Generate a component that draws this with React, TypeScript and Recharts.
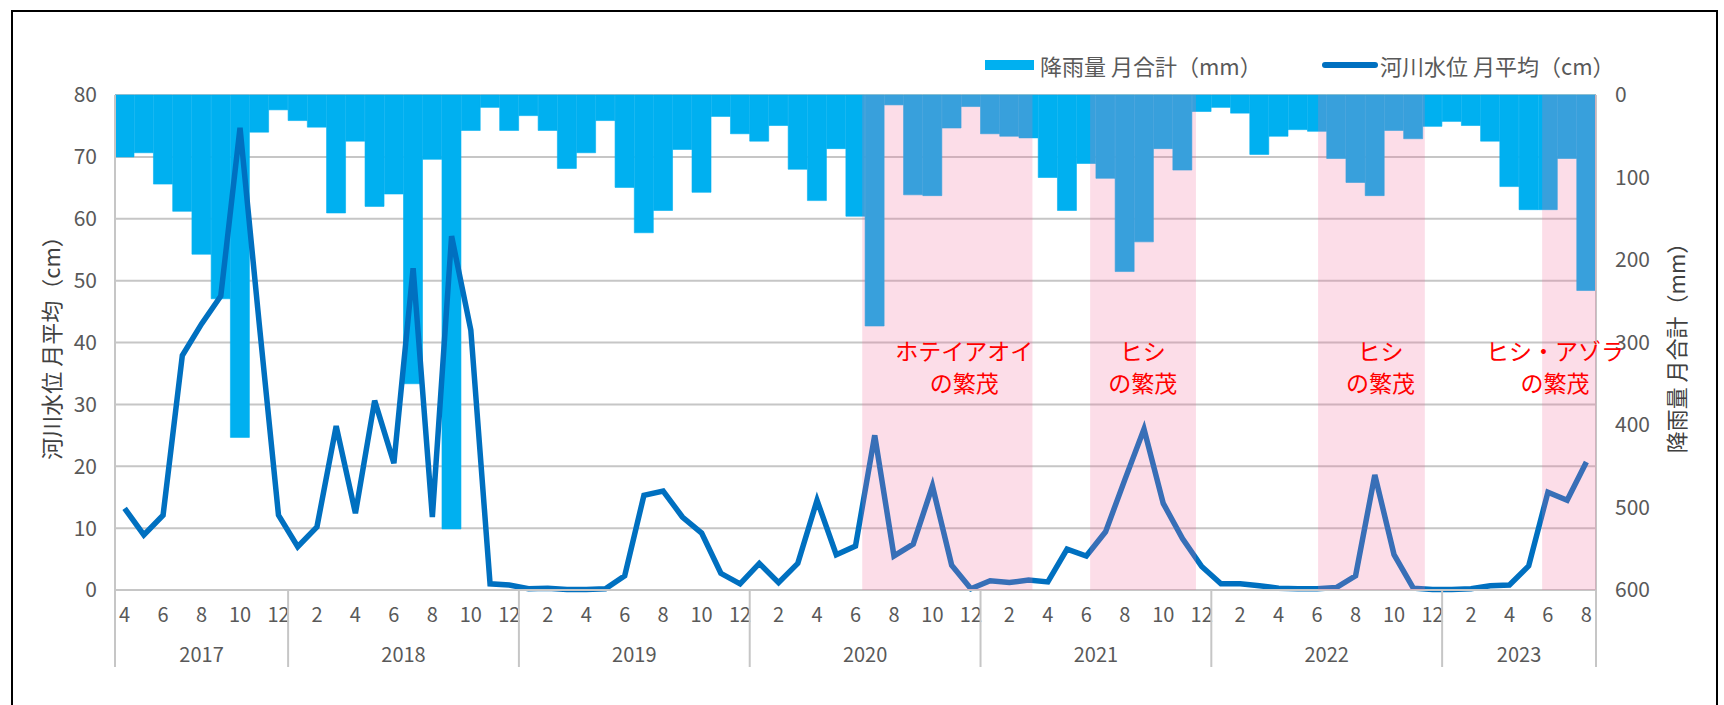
import React from "react";
import {
  Bar, CartesianGrid, ComposedChart, Line, ReferenceArea, ReferenceDot, XAxis, YAxis,
} from "recharts";

const FONT = "'Noto Sans CJK JP', 'Noto Sans', sans-serif";
const TICK_COLOR = "#595959";
const GRID_COLOR = "#c6c6c6";
const RAIN_COLOR = "#00B0F0";
const LEVEL_COLOR = "#0070C0";

const CHART_W = 1724;
const CHART_H = 705;
const LEFT_W = 115;
const RIGHT_W = 128;
const TOP = 95;
const XAXIS_H = 115;

const YEARS = [2017, 2018, 2019, 2020, 2021, 2022, 2023];
const FIRST_MONTH = [4, 1, 1, 1, 1, 1, 1];

// 降雨量 月合計 (mm)
const RAIN_2017 = [75, 70, 108, 141, 193, 247, 415, 45, 18];
const RAIN_2018 = [31, 39, 143, 56, 135, 120, 350, 78, 526, 43, 15, 43];
const RAIN_2019 = [25, 43, 89, 70, 31, 112, 167, 140, 66, 118, 26, 47];
const RAIN_2020 = [56, 37, 90, 128, 65, 147, 280, 12, 121, 122, 40, 14];
const RAIN_2021 = [47, 50, 52, 100, 140, 83, 101, 214, 178, 65, 91, 20];
const RAIN_2022 = [15, 22, 72, 50, 42, 44, 77, 106, 122, 43, 53, 38];
const RAIN_2023 = [32, 37, 56, 111, 139, 139, 77, 237];

// 河川水位 月平均 (cm)
const LEVEL_2017 = [13.2, 8.9, 12.1, 37.9, 43, 47.5, 74.7, 43, 12.1];
const LEVEL_2018 = [7.0, 10.2, 26.5, 12.4, 30.6, 20.5, 52, 11.8, 57.2, 42, 1.0, 0.8];
const LEVEL_2019 = [0.2, 0.3, 0.1, 0.1, 0.2, 2.3, 15.3, 16.0, 11.8, 9.2, 2.7, 1.0];
const LEVEL_2020 = [4.3, 1.2, 4.3, 14.5, 5.7, 7.1, 25.0, 5.5, 7.4, 16.8, 4.0, 0.2];
const LEVEL_2021 = [1.5, 1.2, 1.6, 1.3, 6.6, 5.5, 9.4, 17.8, 26.0, 14.0, 8.3, 3.8];
const LEVEL_2022 = [1.0, 1.0, 0.7, 0.3, 0.2, 0.2, 0.4, 2.3, 18.6, 5.7, 0.3, 0.1];
const LEVEL_2023 = [0.1, 0.2, 0.7, 0.8, 3.9, 15.8, 14.5, 20.7];

const RAIN = [RAIN_2017, RAIN_2018, RAIN_2019, RAIN_2020, RAIN_2021, RAIN_2022, RAIN_2023];
const LEVEL = [LEVEL_2017, LEVEL_2018, LEVEL_2019, LEVEL_2020, LEVEL_2021, LEVEL_2022, LEVEL_2023];

const MONTH_LABELS = [2, 4, 6, 8, 10, 12];
const LEFT_TICKS = [0, 10, 20, 30, 40, 50, 60, 70, 80];
const RIGHT_TICKS = [0, 100, 200, 300, 400, 500, 600];

// shaded periods, in month units counted from the start of 2017-04
const BLOOMS = [[38.85, 47.7], [50.7, 56.2], [62.55, 68.1], [74.2, 77]];
const NOTES = [
  { x: 44.16, top: "ホテイアオイ", bottom: "の繁茂" },
  { x: 53.44, top: "ヒシ", bottom: "の繁茂" },
  { x: 65.8, top: "ヒシ", bottom: "の繁茂" },
  { x: 74.87, top: "ヒシ・アゾラ", bottom: "の繁茂" },
];
const NOTE_Y = [38.5, 33.3];

const rows = YEARS.flatMap((year, yi) =>
  RAIN[yi].map((rain, k) => ({
    key: `${year}-${FIRST_MONTH[yi] + k}`,
    year,
    month: FIRST_MONTH[yi] + k,
    first: k === 0,
    count: RAIN[yi].length,
    rain,
    level: LEVEL[yi][k],
  })),
).map((r, i) => ({ ...r, pos: i + 0.5 }));
const rowByKey = new Map(rows.map((r, i) => [r.key, { ...r, i }]));
const BAND = (CHART_W - LEFT_W - RIGHT_W) / rows.length;

function MonthYearTick(props: any) {
  const { x, y, payload } = props;
  const row = rowByKey.get(payload.value);
  if (!row) return null;
  const half = typeof payload.offset === "number" && payload.offset > 0 ? payload.offset : BAND / 2;
  const isLast = row.i === rows.length - 1;
  return (
    <g>
      {MONTH_LABELS.includes(row.month) && (
        <text x={x} y={y + 23} textAnchor="middle" dominantBaseline="central"
          fill={TICK_COLOR} fontSize={20} fontFamily={FONT}>
          {row.month}
        </text>
      )}
      {row.first && (
        <>
          <line x1={x - half} x2={x - half} y1={y} y2={y + 77} stroke={GRID_COLOR} strokeWidth={2} />
          <text x={x - half + row.count * half} y={y + 63} textAnchor="middle" dominantBaseline="central"
            fill={TICK_COLOR} fontSize={20} fontFamily={FONT}>
            {row.year}
          </text>
        </>
      )}
      {isLast && <line x1={x + half} x2={x + half} y1={y} y2={y + 77} stroke={GRID_COLOR} strokeWidth={2} />}
    </g>
  );
}

function yTitle(text: string, dx: number) {
  return ({ viewBox }: any) => {
    const cx = viewBox.x + dx;
    const cy = viewBox.y + viewBox.height / 2;
    return (
      <text x={cx} y={cy} transform={`rotate(-90 ${cx} ${cy})`} textAnchor="middle" dominantBaseline="central"
        fill="#404040" fontSize={22} fontFamily={FONT}>
        {text}
      </text>
    );
  };
}

export default function App() {
  return (
    <div style={{ position: "absolute", left: 0, top: 0, width: CHART_W, height: CHART_H, overflow: "hidden", background: "#fff", fontFamily: FONT }}>
      <div style={{ position: "absolute", left: 11, top: 10, width: 1707, height: 760, border: "2px solid #000", boxSizing: "border-box" }} />

      {/* legend */}
      <div style={{ position: "absolute", left: 985, top: 60, width: 49, height: 10, background: RAIN_COLOR }} />
      <div style={{ position: "absolute", left: 1040, top: 49, lineHeight: "32px", fontSize: 22, color: TICK_COLOR, whiteSpace: "nowrap" }}>
        降雨量 月合計（mm）
      </div>
      <div style={{ position: "absolute", left: 1322, top: 62, width: 56, height: 6, borderRadius: 3, background: LEVEL_COLOR }} />
      <div style={{ position: "absolute", left: 1380, top: 49, lineHeight: "32px", fontSize: 22, color: TICK_COLOR, whiteSpace: "nowrap" }}>
        河川水位 月平均（cm）
      </div>

      <div style={{ position: "absolute", left: 0, top: 0 }}>
        <ComposedChart width={CHART_W} height={CHART_H} data={rows}
          margin={{ top: TOP, right: 0, bottom: 0, left: 0 }} barCategoryGap={0} barGap={0}>
          <CartesianGrid yAxisId="left" vertical={false} stroke={GRID_COLOR} strokeWidth={2} />
          <XAxis dataKey="key" interval={0} height={XAXIS_H} tickLine={false} tickSize={0} tickMargin={0}
            axisLine={{ stroke: GRID_COLOR, strokeWidth: 2 }} tick={<MonthYearTick />} />
          <XAxis xAxisId="num" dataKey="pos" type="number" domain={[0, rows.length]} allowDataOverflow hide />
          <YAxis yAxisId="left" orientation="left" width={LEFT_W} domain={[0, 80]} ticks={LEFT_TICKS}
            tickLine={false} tickSize={0} tickMargin={18} axisLine={{ stroke: GRID_COLOR, strokeWidth: 2 }}
            tick={{ fill: TICK_COLOR, fontSize: 21, fontFamily: FONT }}
            label={{ content: yTitle("河川水位 月平均（cm）", 50) }} />
          <YAxis yAxisId="right" orientation="right" width={RIGHT_W} domain={[0, 600]} ticks={RIGHT_TICKS} reversed
            tickLine={false} tickSize={0} tickMargin={19} axisLine={{ stroke: GRID_COLOR, strokeWidth: 2 }}
            tick={{ fill: TICK_COLOR, fontSize: 21, fontFamily: FONT, textAnchor: "start" }}
            label={{ content: yTitle("降雨量 月合計（mm）", 79) }} />
          <Bar yAxisId="right" dataKey="rain" fill={RAIN_COLOR} stroke={RAIN_COLOR} strokeWidth={0.6}
            isAnimationActive={false} />
          <Line yAxisId="left" dataKey="level" type="linear" stroke={LEVEL_COLOR} strokeWidth={5.5}
            dot={false} activeDot={false} isAnimationActive={false} />
          {BLOOMS.map(([x1, x2], i) => (
            <ReferenceArea key={`b${i}`} xAxisId="num" yAxisId="left" x1={x1} x2={x2} y1={0} y2={80}
              fill="#F06E9A" fillOpacity={0.23} stroke="none" zIndex={650} />
          ))}
          {NOTES.flatMap((n, i) => [n.top, n.bottom].map((t, j) => (
            <ReferenceDot key={`n${i}-${j}`} xAxisId="num" yAxisId="left" x={n.x} y={NOTE_Y[j]} r={0}
              fill="none" stroke="none" ifOverflow="visible"
              label={{ value: t, position: "center", fill: "#FF0000", fontSize: 23, fontFamily: FONT }} />
          )))}
        </ComposedChart>
      </div>
    </div>
  );
}
